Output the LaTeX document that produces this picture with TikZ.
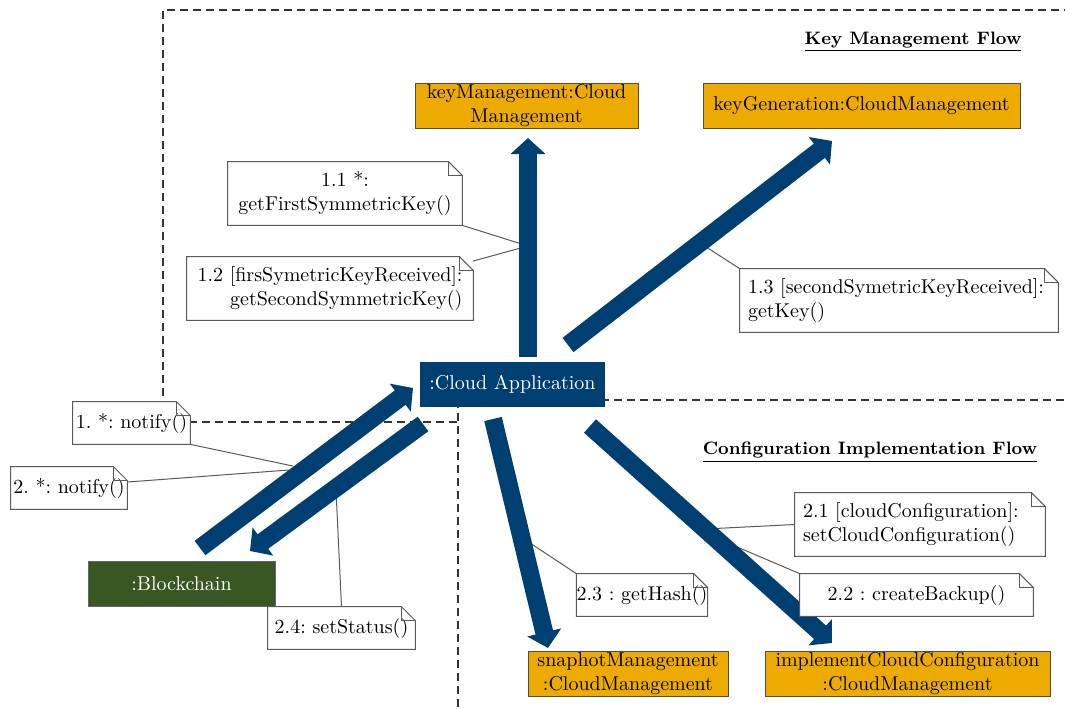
\documentclass[tikz,border=0pt]{standalone}
\usetikzlibrary{arrows.meta}
\definecolor{mgold}{RGB}{237,170,0}
\definecolor{mblue}{RGB}{0,63,114}
\definecolor{mgreen}{RGB}{56,87,35}
\definecolor{mgray}{RGB}{89,89,89}
\pgfdeclarelayer{background}
\pgfsetlayers{background,main}
\frenchspacing

% outline of a UML note with a folded top-right corner
\newcommand{\notefold}[1]{%
  \draw[noteedge] (#1.south west) -- (#1.north west) -- ([xshift=-7pt]#1.north east)
    -- ([yshift=-7pt]#1.north east) -- (#1.south east) -- cycle;
  \draw[noteedge] ([xshift=-7pt]#1.north east) |- ([yshift=-7pt]#1.north east);}

\begin{document}
\begin{tikzpicture}[x=0.5pt,y=-0.5pt,
  every node/.style={font=\fontsize{10}{12}\selectfont, inner sep=0pt},
  obj/.style={draw=black!70, line width=0.4pt, fill=mgold, align=center, minimum height=22.5pt},
  actor/.style={fill=#1, text=white, minimum height=22.5pt},
  note/.style={fill=white, minimum height=31.5pt},
  noteone/.style={fill=white, minimum height=21pt},
  noteedge/.style={draw=mgray, line width=0.5pt},
  noteline/.style={draw=mgray, line width=0.5pt},
  region/.style={dash pattern=on 4pt off 2.5pt, line width=0.6pt, draw=black!80},
  msg/.style={draw=mblue, line width=9pt, -{Triangle[length=8pt,width=17pt]}},
  heading/.style={font=\fontsize{9}{11}\selectfont\bfseries}
]
\useasboundingbox (0,0) rectangle (1065,708);

% objects
\node[obj, minimum width=111.5pt] (km) at (526.5,105.5) {keyManagement:Cloud\\Management};
\node[obj, minimum width=158.5pt] (kg) at (861.5,105.5) {keyGeneration:CloudManagement};
\node[actor=mblue, minimum width=92.5pt] (app) at (512.5,384.5) {:Cloud Application};
\node[actor=mgreen, draw=black!60, line width=0.4pt, minimum width=93.5pt] (bc) at (181.5,583.5) {:Blockchain};
\node[obj, minimum width=100pt] (snap) at (628,673.5) {snaphotManagement\\:CloudManagement};
\node[obj, minimum width=142.5pt] (impl) at (907.5,673.5) {implementCloudConfiguration\\:CloudManagement};

% flow titles
\node[heading] (hk) at (913,42) {\underline{Key Management Flow}};
\node[heading] (hc) at (870,452) {\underline{Configuration Implementation Flow}};

% notes
\node[note, minimum width=117pt, align=center] (n11) at (345,193.5) {1.1 *:\\getFirstSymmetricKey()};
\node[note, minimum width=143pt, align=right] (n12) at (330,288.5) {1.2 [firsSymetricKeyReceived]:\\getSecondSymmetricKey()};
\node[note, minimum width=159pt, text width=151pt, align=left] (n13) at (899,300.5) {\mbox{1.3 [secondSymetricKeyReceived]:}\\getKey()};
\node[note, minimum width=125pt, text width=117pt, align=left] (n21) at (920,524.5) {\mbox{2.1 [cloudConfiguration]:}\\setCloudConfiguration()};
\node[noteone, minimum width=58.5pt] (n1) at (131.5,423) {1. *: notify()};
\node[noteone, minimum width=58pt] (n2) at (69,488) {2. *: notify()};
\node[noteone, minimum width=73.5pt] (n24) at (341.5,628) {2.4: setStatus()};
\node[noteone, minimum width=65pt] (n23) at (642,595) {2.3 : getHash()};
\node[noteone, minimum width=116.5pt] (n22) at (916.5,595) {2.2 : createBackup()};
\foreach \n in {n11,n12,n13,n21,n1,n2,n24,n23,n22} {\notefold{\n}}

% message arrow ends
\coordinate (kmTail) at (528,357);  \coordinate (kmTip) at (528,138);
\coordinate (kgTail) at (568,345);  \coordinate (kgTip) at (832,141);
\coordinate (upTail) at (200,548);  \coordinate (upTip) at (413,388);
\coordinate (dnTail) at (423,424);  \coordinate (dnTip) at (250,551);
\coordinate (snTail) at (493,419);  \coordinate (snTip) at (548,648);
\coordinate (imTail) at (590,426);  \coordinate (imTip) at (832,643);

% points where notes attach to the messages
\coordinate (pKm) at (528,246);
\coordinate (pKg) at (700,243);
\coordinate (pUp1) at (293,466);
\coordinate (pUp2) at (289,470);
\coordinate (pDn) at (336,490);
\coordinate (pSn) at (521,537);
\coordinate (pIm1) at (705,529);
\coordinate (pIm2) at (709,535);

\begin{pgfonlayer}{background}
  % flow regions
  \draw[region] (163,422) -- (163,10) -- (1065,10);
  \draw[region] (163,422) -- (458,422);
  \draw[region] (458,400) -- (1065,400);
  \draw[region] (458,400) -- (458,708);

  % note anchors
  \draw[noteline] (n11.south east) -- (pKm);
  \draw[noteline] ([xshift=-3pt,yshift=-3pt]n12.north east) -- (pKm);
  \draw[noteline] (n13.north west) -- (pKg);
  \draw[noteline] (n1.south east) -- (pUp1);
  \draw[noteline] ([yshift=3pt]n2.east) -- (pUp2);
  \draw[noteline] (pDn) -- (n24.north);
  \draw[noteline] (pSn) -- (n23.north west);
  \draw[noteline] (pIm1) -- (n21.west);
  \draw[noteline] (pIm2) -- (n22.north west);

  % messages
  \draw[msg] (kmTail) -- (kmTip);
  \draw[msg] (kgTail) -- (kgTip);
  \draw[msg] (upTail) -- (upTip);
  \draw[msg] (dnTail) -- (dnTip);
  \draw[msg] (snTail) -- (snTip);
  \draw[msg] (imTail) -- (imTip);
\end{pgfonlayer}
\end{tikzpicture}
\end{document}
